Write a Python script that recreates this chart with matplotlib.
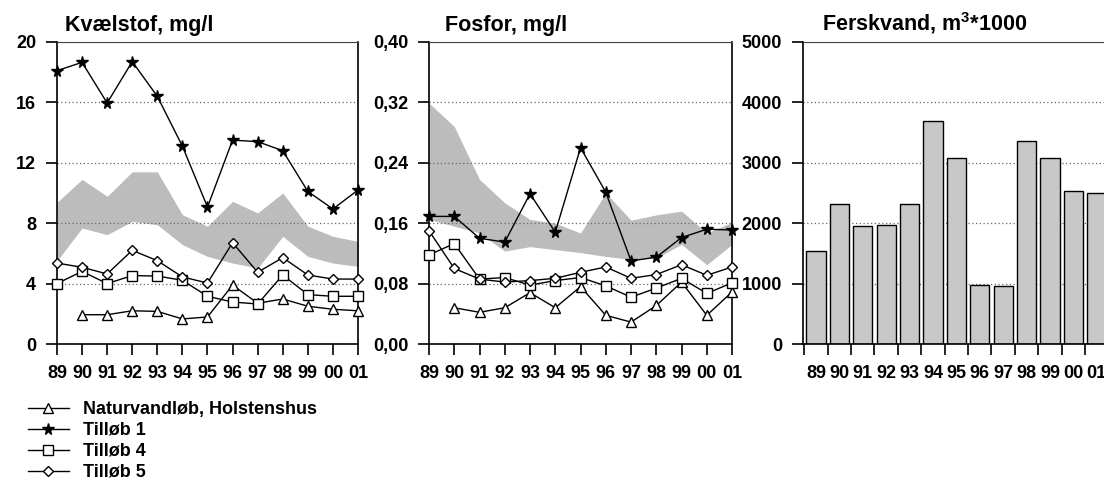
import numpy as np
import matplotlib.pyplot as plt

plt.rcParams['font.family'] = ['Liberation Sans', 'DejaVu Sans']
plt.rcParams['font.weight'] = 'bold'
plt.rcParams['mathtext.fontset'] = 'custom'
plt.rcParams['mathtext.rm'] = 'Liberation Sans:bold'
plt.rcParams['mathtext.bf'] = 'Liberation Sans:bold'

years = ['89', '90', '91', '92', '93', '94', '95', '96', '97', '98', '99', '00', '01']

# Kvælstof, mg/l
n_natur = [np.nan, 1.94, 1.94, 2.2, 2.16, 1.66, 1.79, 3.9, 2.7, 2.98, 2.5, 2.3, 2.2]
n_till1 = [18.1, 18.65, 15.96, 18.7, 16.4, 13.1, 9.07, 13.5, 13.4, 12.8, 10.1, 8.94, 10.2]
n_till4 = [4.0, 4.81, 4.0, 4.53, 4.5, 4.22, 3.16, 2.78, 2.65, 4.57, 3.27, 3.16, 3.16]
n_till5 = [5.36, 5.08, 4.64, 6.2, 5.52, 4.44, 4.04, 6.71, 4.75, 5.72, 4.57, 4.3, 4.3]
n_band_low = [5.5, 7.68, 7.24, 8.12, 7.9, 6.58, 5.8, 5.36, 5.03, 7.13, 5.8, 5.36, 5.14]
n_band_high = [9.38, 10.9, 9.78, 11.4, 11.4, 8.56, 7.8, 9.45, 8.68, 10.0, 7.8, 7.13, 6.8]

# Fosfor, mg/l
p_natur = [np.nan, 0.048, 0.042, 0.048, 0.068, 0.048, 0.076, 0.038, 0.029, 0.051, 0.082, 0.038, 0.069]
p_till1 = [0.169, 0.169, 0.140, 0.135, 0.199, 0.148, 0.260, 0.201, 0.110, 0.115, 0.141, 0.152, 0.151]
p_till4 = [0.118, 0.133, 0.086, 0.088, 0.078, 0.084, 0.088, 0.077, 0.062, 0.074, 0.087, 0.067, 0.081]
p_till5 = [0.150, 0.100, 0.086, 0.082, 0.084, 0.087, 0.095, 0.102, 0.087, 0.092, 0.105, 0.091, 0.102]
p_band_low = [0.165, 0.156, 0.147, 0.123, 0.129, 0.125, 0.121, 0.116, 0.112, 0.114, 0.132, 0.105, 0.132]
p_band_high = [0.319, 0.288, 0.218, 0.187, 0.165, 0.160, 0.147, 0.200, 0.164, 0.171, 0.176, 0.147, 0.161]

# Ferskvand, m3*1000
water = [1543, 2318, 1958, 1964, 2318, 3695, 3075, 973, 962, 3368, 3075, 2528, 2506]

labels = ['Naturvandløb, Holstenshus', 'Tilløb 1', 'Tilløb 4', 'Tilløb 5']

fig = plt.figure(figsize=(11.04, 4.82), dpi=100)
ax1 = fig.add_axes([0.0516, 0.2863, 0.2727, 0.6266])
ax2 = fig.add_axes([0.3886, 0.2863, 0.2745, 0.6266])
ax3 = fig.add_axes([0.7274, 0.2863, 0.30, 0.6266])

x = np.arange(len(years))


def frame(ax, ymax, step, fmt):
    ticks = np.arange(0, ymax + step / 2, step)
    ax.set_ylim(0, ymax)
    ax.set_yticks(ticks)
    ax.set_yticklabels([fmt(t) for t in ticks])
    ax.set_axisbelow(True)
    ax.grid(axis='y', ls=(0, (1, 2)), color='#666666', lw=0.9)
    ax.spines['top'].set_linestyle((0, (1, 1)))
    ax.spines['top'].set_color('#444444')
    for s in ['left', 'bottom', 'right']:
        ax.spines[s].set_linewidth(1.2)
    ax.tick_params(axis='y', direction='out', length=8, width=1.2, labelsize=13, pad=7)
    ax.tick_params(axis='x', direction='out', length=8, width=1.2, labelsize=13, pad=7)


def lines(ax, natur, t1, t4, t5, low, high):
    ax.fill_between(x, low, high, color='#bcbcbc', lw=0, zorder=0.3)
    kw = dict(color='black', lw=1, clip_on=False, zorder=3)
    h = []
    h += ax.plot(x, natur, marker='^', ms=7.5, mfc='white', mec='black', **kw)
    h += ax.plot(x, t1, marker='*', ms=8.5, mfc='black', mec='black', **kw)
    h += ax.plot(x, t4, marker='s', ms=7.5, mfc='white', mec='black', **kw)
    h += ax.plot(x, t5, marker='D', ms=5.5, mfc='white', mec='black', **kw)
    ax.set_xlim(0, 12)
    ax.set_xticks(x)
    ax.set_xticklabels(years)
    return h


frame(ax1, 20, 4, lambda v: f'{v:.0f}')
handles = lines(ax1, n_natur, n_till1, n_till4, n_till5, n_band_low, n_band_high)

frame(ax2, 0.40, 0.08, lambda v: f'{v:.2f}'.replace('.', ','))
lines(ax2, p_natur, p_till1, p_till4, p_till5, p_band_low, p_band_high)

frame(ax3, 5000, 1000, lambda v: f'{v:.0f}')
ax3.spines['right'].set_visible(False)
ax3.bar(x, water, width=0.82, color='#c8c8c8', edgecolor='black', lw=1, zorder=2)
ax3.set_xlim(-0.55, 13.6)
ax3.set_xticks(np.arange(-0.5, 13, 1))
ax3.set_xticklabels([])
ax3.set_xticks(x, minor=True)
ax3.set_xticklabels(years, minor=True)
ax3.tick_params(axis='x', which='minor', length=0, labelsize=13, pad=15)

title_y = 1 - 31 / 482
fig.text(65 / 1104, title_y, 'Kvælstof, mg/l', fontsize=15.5, va='baseline')
fig.text(445 / 1104, title_y, 'Fosfor, mg/l', fontsize=15.5, va='baseline')
fig.text(822 / 1104, title_y, r'Ferskvand, m$^{3}$*1000', fontsize=15.5, va='baseline')

fig.legend(handles, labels, loc='upper left', bbox_to_anchor=(0.025, 0.168),
           frameon=False, fontsize=13, handlelength=2.3, handletextpad=0.75,
           labelspacing=0.22, borderpad=0, borderaxespad=0)

fig.savefig('out.png', dpi=100)
